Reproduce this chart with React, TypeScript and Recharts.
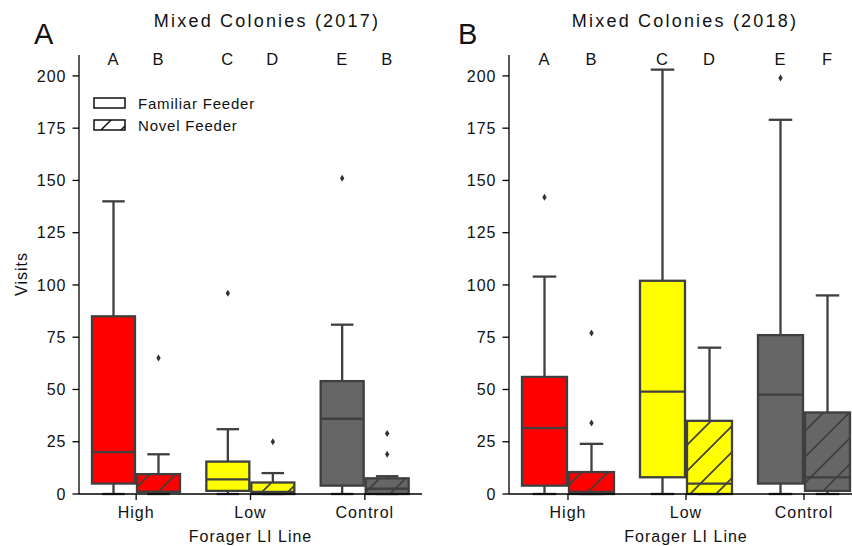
import { ComposedChart, Bar, XAxis, YAxis, Legend } from "recharts";

const CATS = ["High", "Low", "Control"];
const CAT_COLORS = ["#ff0000", "#ffff00", "#666666"];
const Y_TICKS = [0, 25, 50, 75, 100, 125, 150, 175, 200];
const Y_MAX = 210;
const TAG_LEVEL = 205; // where the significance letters sit

// 2017 — familiar feeder
const FAM17_HI = [140, 31, 81];
const FAM17_Q3 = [85, 15.5, 54];
const FAM17_MED = [20, 7, 36];
const FAM17_Q1 = [5, 1.5, 4];
const FAM17_OUT = [[], [96], [151]];
const FAM17_TAGS = ["A", "C", "E"];
// 2017 — novel feeder
const NOV17_HI = [19, 10, 8.5];
const NOV17_Q3 = [9.5, 5.5, 7.5];
const NOV17_MED = [1, 1, 2.5];
const NOV17_Q1 = [1, 0, 0];
const NOV17_OUT = [[65], [25], [29, 19]];
const NOV17_TAGS = ["B", "D", "B"];

// 2018 — familiar feeder
const FAM18_HI = [104, 203, 179];
const FAM18_Q3 = [56, 102, 76];
const FAM18_MED = [31.5, 49, 47.5];
const FAM18_Q1 = [4, 8, 5];
const FAM18_OUT = [[142], [], [199]];
const FAM18_TAGS = ["A", "C", "E"];
// 2018 — novel feeder
const NOV18_HI = [24, 70, 95];
const NOV18_Q3 = [10.5, 35, 39];
const NOV18_MED = [1, 5, 8];
const NOV18_Q1 = [0, 0, 1.5];
const NOV18_OUT = [[77, 34], [], []];
const NOV18_TAGS = ["B", "D", "F"];

const EDGE = "#3f3f3f";
const LW = 2.3;
const FONT = "'Liberation Sans', Arial, sans-serif";

type Stats = { hi: number[]; q3: number[]; med: number[]; q1: number[]; out: number[][]; tags: string[] };

function buildRows(fam: Stats, nov: Stats) {
  return CATS.map((cat, i) => ({
    cat,
    color: CAT_COLORS[i],
    famHi: fam.hi[i],
    famQ3: fam.q3[i],
    famMed: fam.med[i],
    famQ1: fam.q1[i],
    famOut: fam.out[i],
    famTag: fam.tags[i],
    novHi: nov.hi[i],
    novQ3: nov.q3[i],
    novMed: nov.med[i],
    novQ1: nov.q1[i],
    novOut: nov.out[i],
    novTag: nov.tags[i],
  }));
}

const rows17 = buildRows(
  { hi: FAM17_HI, q3: FAM17_Q3, med: FAM17_MED, q1: FAM17_Q1, out: FAM17_OUT, tags: FAM17_TAGS },
  { hi: NOV17_HI, q3: NOV17_Q3, med: NOV17_MED, q1: NOV17_Q1, out: NOV17_OUT, tags: NOV17_TAGS }
);
const rows18 = buildRows(
  { hi: FAM18_HI, q3: FAM18_Q3, med: FAM18_MED, q1: FAM18_Q1, out: FAM18_OUT, tags: FAM18_TAGS },
  { hi: NOV18_HI, q3: NOV18_Q3, med: NOV18_MED, q1: NOV18_Q1, out: NOV18_OUT, tags: NOV18_TAGS }
);

// The bar spans 0..whisker top, so its height gives us the y scale for the rest of the box
function BoxShape(props: any) {
  const { x, y, width, height, payload, which } = props;
  const hi = payload[which + "Hi"];
  const q3 = payload[which + "Q3"];
  const med = payload[which + "Med"];
  const q1 = payload[which + "Q1"];
  const outs: number[] = payload[which + "Out"];
  const tag: string = payload[which + "Tag"];
  const k = height / hi;
  const base = y + height;
  const py = (v: number) => base - v * k;
  const cx = x + width / 2;
  const cap = width / 4;
  return (
    <g>
      <line x1={cx} x2={cx} y1={py(hi)} y2={py(q3)} stroke={EDGE} strokeWidth={LW} />
      <line x1={cx} x2={cx} y1={py(q1)} y2={py(0)} stroke={EDGE} strokeWidth={LW} />
      <line x1={cx - cap} x2={cx + cap} y1={py(hi)} y2={py(hi)} stroke={EDGE} strokeWidth={LW} />
      <line x1={cx - cap} x2={cx + cap} y1={py(0)} y2={py(0)} stroke={EDGE} strokeWidth={LW} />
      <rect x={x + 1} y={py(q3)} width={width - 2} height={py(q1) - py(q3)} fill={payload.color} />
      {which === "nov" && (
        <rect x={x + 1} y={py(q3)} width={width - 2} height={py(q1) - py(q3)} fill="url(#hatch)" />
      )}
      <rect
        x={x + 1}
        y={py(q3)}
        width={width - 2}
        height={py(q1) - py(q3)}
        fill="none"
        stroke={EDGE}
        strokeWidth={LW}
      />
      <line x1={x + 1} x2={x + width - 1} y1={py(med)} y2={py(med)} stroke={EDGE} strokeWidth={LW} />
      {outs.map((o, i) => (
        <polygon
          key={i}
          points={`${cx},${py(o) - 3.5} ${cx + 2.2},${py(o)} ${cx},${py(o) + 3.5} ${cx - 2.2},${py(o)}`}
          fill="#333"
        />
      ))}
      <text
        x={cx}
        y={py(TAG_LEVEL)}
        textAnchor="middle"
        fontSize={16.5}
        fontFamily={FONT}
        letterSpacing={1}
        fill="#111"
      >
        {tag}
      </text>
    </g>
  );
}

function FeederLegend() {
  const item = (label: string, hatched: boolean) => (
    <div style={{ display: "flex", alignItems: "center", height: 22 }}>
      <svg width={34} height={14} style={{ marginRight: 11 }}>
        <rect x={1} y={2} width={31} height={10} fill="#fff" stroke="#111" strokeWidth={1.5} />
        {hatched && <rect x={1} y={2} width={31} height={10} fill="url(#hatchLegend)" />}
      </svg>
      <span style={{ fontSize: 15, letterSpacing: 0.8, color: "#111", fontFamily: FONT }}>{label}</span>
    </div>
  );
  return (
    <div>
      {item("Familiar Feeder", false)}
      {item("Novel Feeder", true)}
    </div>
  );
}

function Panel({ data, width, legend }: { data: any[]; width: number; legend?: boolean }) {
  const tickStyle = { fontSize: 16, fill: "#111", fontFamily: FONT, letterSpacing: 1 };
  return (
    <ComposedChart
      width={width}
      height={546}
      data={data}
      margin={{ top: 55, right: 8, bottom: 0, left: 0 }}
      barCategoryGap={12}
      barGap={0}
    >
      <XAxis
        dataKey="cat"
        height={52}
        tickSize={6}
        tickMargin={7}
        tick={tickStyle}
        axisLine={{ stroke: "#000", strokeWidth: 1.3 }}
        tickLine={{ stroke: "#000", strokeWidth: 1.3 }}
        label={{
          value: "Forager LI Line",
          position: "insideBottom",
          offset: 4.5,
          style: { fontSize: 16, fill: "#111", fontFamily: FONT, letterSpacing: 1 },
        }}
      />
      <YAxis
        width={79}
        domain={[0, Y_MAX]}
        ticks={Y_TICKS}
        interval={0}
        tickSize={6.5}
        tickMargin={6}
        tick={tickStyle}
        axisLine={{ stroke: "#000", strokeWidth: 1.3 }}
        tickLine={{ stroke: "#000", strokeWidth: 1.3 }}
      />
      {legend && (
        <Legend
          layout="vertical"
          align="center"
          verticalAlign="middle"
          content={() => <FeederLegend />}
          wrapperStyle={{ left: 93, top: 92, width: 220 }}
        />
      )}
      <Bar dataKey="famHi" isAnimationActive={false} shape={(p: any) => <BoxShape {...p} which="fam" />} />
      <Bar dataKey="novHi" isAnimationActive={false} shape={(p: any) => <BoxShape {...p} which="nov" />} />
    </ComposedChart>
  );
}

export default function App() {
  const textStyle = { fontFamily: FONT, fill: "#111" };
  return (
    <div
      style={{
        position: "absolute",
        left: 0,
        top: 0,
        width: 852,
        height: 546,
        overflow: "hidden",
        background: "#fff",
      }}
    >
      <svg width={852} height={546} style={{ position: "absolute", left: 0, top: 0, pointerEvents: "none", zIndex: 2 }}>
        <defs>
          <pattern id="hatch" patternUnits="userSpaceOnUse" width={26} height={26}>
            <path d="M0,26 L26,0 M-6.5,6.5 L6.5,-6.5 M19.5,32.5 L32.5,19.5" stroke={EDGE} strokeWidth={1.7} />
          </pattern>
          <pattern id="hatchLegend" patternUnits="userSpaceOnUse" width={20} height={20}>
            <path d="M0,20 L20,0 M-5,5 L5,-5 M15,25 L25,15" stroke="#111" strokeWidth={1.5} />
          </pattern>
        </defs>
        <text x={267} y={27} textAnchor="middle" fontSize={18} letterSpacing={2.2} {...textStyle}>
          Mixed Colonies (2017)
        </text>
        <text x={685} y={27} textAnchor="middle" fontSize={18} letterSpacing={2.2} {...textStyle}>
          Mixed Colonies (2018)
        </text>
        <text x={34} y={44} fontSize={29} {...textStyle}>
          A
        </text>
        <text x={458} y={44} fontSize={29} {...textStyle}>
          B
        </text>
        <text transform="translate(27,274) rotate(-90)" textAnchor="middle" fontSize={16} letterSpacing={1} {...textStyle}>
          Visits
        </text>
      </svg>
      <div style={{ position: "absolute", left: 0, top: 0 }}>
        <Panel data={rows17} width={430} legend />
      </div>
      <div style={{ position: "absolute", left: 430, top: 0 }}>
        <Panel data={rows18} width={441} />
      </div>
    </div>
  );
}
